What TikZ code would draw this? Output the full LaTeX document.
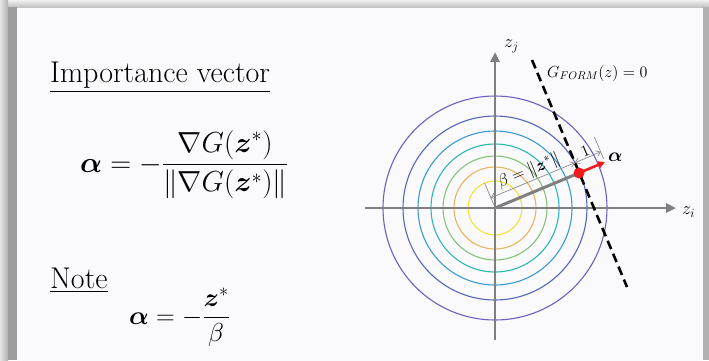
\RequirePackage{fix-cm}
\documentclass[tikz,border=0pt]{standalone}
\usepackage{amsmath,bm}
\usetikzlibrary{arrows.meta}
\definecolor{panel}{HTML}{FAFAFC}
\definecolor{axisgray}{HTML}{7F7F7F}
\definecolor{dimgray}{HTML}{8C8C8C}
\definecolor{cA}{HTML}{6A62BE}
\definecolor{cB}{HTML}{5566B8}
\definecolor{cC}{HTML}{3A98D2}
\definecolor{cD}{HTML}{2DB7B4}
\definecolor{cE}{HTML}{86C27A}
\definecolor{cF}{HTML}{E9B45E}
\definecolor{cG}{HTML}{EEE43E}
\definecolor{redpt}{HTML}{F21B1B}
\tikzset{
  axisline/.style={draw=axisgray, line width=2.6pt, -{Triangle[length=10pt,width=9pt]}},
  contour/.style={line width=1.1pt},
  dimline/.style={draw=dimgray, line width=0.7pt},
  dimarrow/.style={dimline, {Straight Barb[length=4pt,width=6pt]}-{Straight Barb[length=4pt,width=6pt]}},
  bigtext/.style={font=\fontsize{30}{36}\selectfont, inner sep=0pt},
  eqtext/.style={font=\fontsize{29}{35}\selectfont, inner sep=0pt},
  lbl/.style={font=\fontsize{16}{19}\selectfont, inner sep=1pt},
}
\begin{document}
\begin{tikzpicture}[x=1pt,y=-1pt]
\useasboundingbox (0,0) rectangle (709,360);
% frame and shadow
\fill[black!12] (0,0) rectangle (709,360);
\shade[top color=black!6, bottom color=black!26] (0,0) rectangle (709,8);
\shade[left color=black!10, right color=black!30] (0,0) rectangle (8,360);
\fill[black!38] (8,7) rectangle (17,360);
\fill[black!30] (703,7) rectangle (709,360);
\fill[panel] (17,8) rectangle (703,365);

% left texts
\node[bigtext, anchor=base west] (title) at (50,82) {\underline{Importance vector}};
\node[eqtext, anchor=base west] (eq1) at (80,172)
  {$\bm{\alpha} = -\dfrac{\nabla G(\bm{z}^{*})}{\lVert\nabla G(\bm{z}^{*})\rVert}$};
\node[bigtext, anchor=base west] (note) at (50,288) {\underline{Note}};
\node[font=\fontsize{26}{32}\selectfont, inner sep=0pt, anchor=base west] (eq2) at (129,324)
  {$\bm{\alpha} = -\dfrac{\bm{z}^{*}}{\beta}$};

% diagram
\coordinate (O) at (495,208);
\coordinate (P) at (579,173);
\coordinate (A) at (605,162);
\foreach \r/\c in {112/cA,92/cB,77/cC,64/cD,52/cE,41/cF,27/cG}
  \draw[contour, \c] (O) circle[radius=\r pt];

\coordinate (xs) at (365,208);
\coordinate (xe) at (676,208);
\coordinate (ys) at (495,340);
\coordinate (ye) at (495,52);
\draw[axisline] (xs) -- (xe);
\draw[axisline] (ys) -- (ye);
\node[lbl, font=\fontsize{18}{21}\selectfont, anchor=west] (zi) at (681,212) {$z_i$};
\node[lbl, font=\fontsize{18}{21}\selectfont, anchor=west] (zj) at (503,46) {$z_j$};

% limit state line
\coordinate (ls) at (532,60);
\coordinate (le) at (627,287);
\draw[black, line width=2.6pt, dash pattern=on 9pt off 5pt] (ls) -- (le);
\node[lbl, anchor=west] (gform) at (546,73) {$G_{FORM}(z) = 0$};

% design point
\draw[axisgray, line width=3pt] (O) -- (P);
\draw[redpt, line width=2.6pt, -{Triangle[length=7pt,width=7pt]}] (P) -- (A);
\fill[redpt] (P) circle[radius=5.5pt];
\node[lbl, font=\fontsize{19}{22}\selectfont, anchor=west] (alab) at (607,157) {$\bm{\alpha}$};

% dimensions
\coordinate (e1a) at (494,205);
\coordinate (e1b) at (484.6,183);
\coordinate (e2a) at (603.6,159);
\coordinate (e2b) at (594.4,137);
\draw[dimline] (e1a) -- (e1b);
\draw[dimline] (e2a) -- (e2b);
\coordinate (d1) at (490.8,197.8);
\coordinate (d2) at (574.8,162.8);
\coordinate (d3) at (600.8,151.8);
\draw[dimarrow] (d1) -- node[lbl, font=\fontsize{17}{20}\selectfont, sloped, anchor=south, inner sep=1pt] (blab) {$\beta = \lVert\bm{z}^{*}\rVert$} (d2);
\draw[dimarrow] (d2) -- node[lbl, sloped, anchor=south, inner sep=1pt] (one) {$1$} (d3);
\end{tikzpicture}
\end{document}
